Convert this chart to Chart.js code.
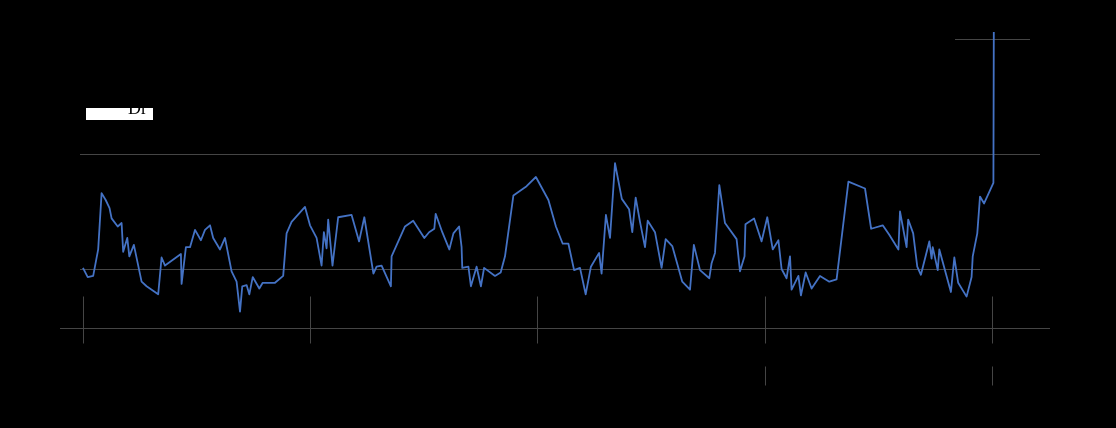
<!DOCTYPE html>
<html>
<head>
<meta charset="utf-8">
<script src="https://cdn.jsdelivr.net/npm/chart.js@4.4.0/dist/chart.umd.min.js"></script>
<style>
  html, body { margin: 0; padding: 0; background: #000; }
  #wrap { width: 1116px; height: 428px; position: relative; }
</style>
</head>
<body>
<div id="wrap"><canvas id="lineCanvas"></canvas></div>
<script>
// x positions (decimal years) and values
const xYears = [
  2019.000, 2019.021, 2019.045, 2019.067, 2019.082, 2019.100, 2019.117, 2019.126, 2019.153, 2019.170,
  2019.177, 2019.195, 2019.204, 2019.224, 2019.258, 2019.280, 2019.331, 2019.346, 2019.361, 2019.431,
  2019.434, 2019.453, 2019.471, 2019.493, 2019.519, 2019.537, 2019.559, 2019.573, 2019.603, 2019.625,
  2019.654, 2019.676, 2019.691, 2019.701, 2019.720, 2019.732, 2019.747, 2019.776, 2019.791, 2019.845,
  2019.881, 2019.896, 2019.918, 2019.977, 2019.999, 2020.028, 2020.050, 2020.060, 2020.072, 2020.079,
  2020.098, 2020.123, 2020.182, 2020.215, 2020.238, 2020.278, 2020.292, 2020.314, 2020.355, 2020.358,
  2020.417, 2020.453, 2020.502, 2020.523, 2020.546, 2020.552, 2020.581, 2020.612, 2020.630, 2020.655,
  2020.666, 2020.669, 2020.696, 2020.707, 2020.732, 2020.751, 2020.765, 2020.813, 2020.838, 2020.857,
  2020.894, 2020.952, 2020.993, 2021.048, 2021.081, 2021.111, 2021.136, 2021.161, 2021.187, 2021.212,
  2021.235, 2021.271, 2021.282, 2021.301, 2021.319, 2021.341, 2021.371, 2021.403, 2021.417, 2021.432,
  2021.451, 2021.473, 2021.485, 2021.517, 2021.546, 2021.564, 2021.593, 2021.637, 2021.671, 2021.688,
  2021.715, 2021.756, 2021.766, 2021.781, 2021.800, 2021.825, 2021.876, 2021.891, 2021.911, 2021.915,
  2021.953, 2021.986, 2022.011, 2022.035, 2022.060, 2022.074, 2022.096, 2022.111, 2022.118, 2022.148,
  2022.159, 2022.180, 2022.206, 2022.243, 2022.284, 2022.316, 2022.368, 2022.441, 2022.468, 2022.519,
  2022.547, 2022.588, 2022.595, 2022.624, 2022.631, 2022.653, 2022.671, 2022.687, 2022.724, 2022.734,
  2022.739, 2022.761, 2022.768, 2022.819, 2022.834, 2022.851, 2022.888, 2022.910, 2022.915, 2022.935,
  2022.947, 2022.965, 2023.006, 2023.009
];
const yValues = [
  0.01, -0.07, -0.06, 0.17, 0.66, 0.60, 0.53, 0.44, 0.37, 0.40,
  0.15, 0.27, 0.11, 0.21, -0.11, -0.15, -0.22, 0.10, 0.03, 0.13,
  -0.13, 0.19, 0.19, 0.34, 0.25, 0.34, 0.38, 0.27, 0.17, 0.27,
  -0.02, -0.11, -0.37, -0.15, -0.14, -0.22, -0.07, -0.17, -0.12, -0.12,
  -0.06, 0.31, 0.41, 0.54, 0.38, 0.27, 0.03, 0.32, 0.18, 0.43,
  0.03, 0.45, 0.47, 0.24, 0.45, -0.04, 0.02, 0.03, -0.15, 0.11,
  0.37, 0.42, 0.27, 0.32, 0.35, 0.48, 0.32, 0.17, 0.31, 0.37,
  0.19, 0.01, 0.02, -0.15, 0.02, -0.15, 0.01, -0.06, -0.03, 0.11,
  0.64, 0.72, 0.80, 0.60, 0.37, 0.22, 0.22, -0.01, 0.01, -0.22,
  0.02, 0.14, -0.04, 0.47, 0.27, 0.92, 0.61, 0.52, 0.32, 0.62,
  0.41, 0.19, 0.42, 0.32, 0.01, 0.26, 0.20, -0.11, -0.18, 0.21,
  -0.01, -0.08, 0.05, 0.14, 0.73, 0.40, 0.26, -0.02, 0.11, 0.39,
  0.44, 0.24, 0.45, 0.17, 0.25, 0.00, -0.08, 0.11, -0.18, -0.06,
  -0.23, -0.03, -0.17, -0.06, -0.11, -0.09, 0.76, 0.70, 0.35, 0.38,
  0.30, 0.17, 0.50, 0.19, 0.43, 0.31, 0.02, -0.05, 0.24, 0.09,
  0.19, -0.01, 0.17, -0.20, 0.10, -0.12, -0.24, -0.07, 0.11, 0.31,
  0.63, 0.57, 0.75, 3.00
];
const tickYears = [2019, 2020, 2021, 2022, 2023];
const lowerTickYears = [2022, 2023];
const gridValues = [0, 1];
const topRefValue = 2;
const topRefFrom = 2022.837;
const topRefTo = 2023.167;
const legendLabel = "Dr";

const gridColor = "#454545";
const lineColor = "#4472c4";

// axis line, tick marks crossing it, second row of ticks, short top line
const axisDecor = {
  id: "axisDecor",
  beforeDatasetsDraw(chart) {
    const { ctx, chartArea, scales } = chart;
    const x = scales.x;
    const y = scales.y;
    const base = chartArea.bottom + 0.5;
    ctx.save();
    ctx.strokeStyle = gridColor;
    ctx.lineWidth = 1;
    ctx.beginPath();
    ctx.moveTo(chartArea.left - 20, base);
    ctx.lineTo(chartArea.right + 10, base);
    tickYears.forEach((v) => {
      const px = Math.round(x.getPixelForValue(v)) + 0.5;
      ctx.moveTo(px, base - 32);
      ctx.lineTo(px, base + 15);
    });
    lowerTickYears.forEach((v) => {
      const px = Math.round(x.getPixelForValue(v)) + 0.5;
      ctx.moveTo(px, base + 38);
      ctx.lineTo(px, base + 57);
    });
    const yTop = Math.round(y.getPixelForValue(topRefValue)) + 0.5;
    ctx.moveTo(x.getPixelForValue(topRefFrom), yTop);
    ctx.lineTo(x.getPixelForValue(topRefTo), yTop);
    ctx.stroke();
    ctx.restore();
  },
};

// white patch with the legend text over it
const legendPatch = {
  id: "legendPatch",
  afterDraw(chart) {
    const { ctx, chartArea } = chart;
    ctx.save();
    ctx.fillStyle = "#ffffff";
    ctx.fillRect(chartArea.left + 6, 108, 67, 12);
    ctx.fillStyle = "#000000";
    ctx.font = '18px "Liberation Serif", serif';
    ctx.textBaseline = "alphabetic";
    ctx.fillText(legendLabel, chartArea.left + 48, 114);
    ctx.restore();
  },
};

const initChart = () => {
  const lineCanvas = document.getElementById("lineCanvas");
  const points = xYears.map((xv, i) => ({ x: xv, y: yValues[i] }));

  return new Chart(lineCanvas, {
    type: "line",
    data: {
      datasets: [
        {
          label: legendLabel,
          data: points,
          borderColor: lineColor,
          borderWidth: 1.8,
          borderJoinStyle: "round",
          pointRadius: 0,
          tension: 0,
          fill: false,
        },
      ],
    },
    options: {
      responsive: true,
      maintainAspectRatio: false,
      animation: false,
      layout: { padding: { top: 32, right: 76, left: 0, bottom: 0 } },
      plugins: {
        legend: { display: false },
        tooltip: { enabled: false },
        title: { display: false },
      },
      scales: {
        x: {
          type: "linear",
          min: 2018.987,
          max: 2023.211,
          afterBuildTicks: (s) => {
            s.ticks = tickYears.map((v) => ({ value: v }));
          },
          afterFit: (s) => {
            s.height = 100;
          },
          grid: { display: false },
          border: { display: false },
          ticks: { display: false },
        },
        y: {
          min: -0.513,
          max: 2.061,
          afterBuildTicks: (s) => {
            s.ticks = gridValues.map((v) => ({ value: v }));
          },
          afterFit: (s) => {
            s.width = 80;
          },
          grid: { color: gridColor, drawTicks: false },
          border: { display: false },
          ticks: { display: false },
        },
      },
    },
    plugins: [axisDecor, legendPatch],
  });
};

document.addEventListener("DOMContentLoaded", () => {
  initChart();
});
</script>
</body>
</html>
